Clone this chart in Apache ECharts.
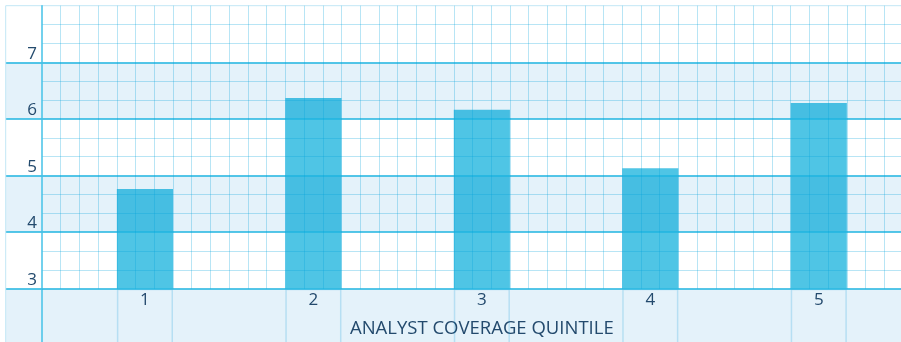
<!DOCTYPE html>
<html>
<head>
<meta charset="utf-8">
<script src="https://cdn.jsdelivr.net/npm/echarts@6/dist/echarts.min.js"></script>
<style>
  html, body { margin: 0; padding: 0; background: #ffffff; }
  #chart { width: 901px; height: 342px; }
</style>
</head>
<body>
<div id="chart"></div>
<script>
// Analyst coverage quintiles and their values
const categories = ['1', '2', '3', '4', '5'];
const quintileValues = [4.76, 6.37, 6.16, 5.13, 6.28];

// Value axis range and step
const yMin = 3;
const yMax = 8;
const yStep = 1;

// Graph-paper column count across the plot
const paperColumns = 46;

const axisTitle = 'ANALYST COVERAGE QUINTILE';

// Palette
const barColor = '#4fc5e5';
const bandTint = 'rgba(3,134,208,0.107)';
const footColor = '#e4f2fa';
const minorLine = 'rgba(0,160,220,0.28)';
const majorLine = '#1fb4e0';
const axisLineColor = '#45c2e7';
const frameColor = '#c2e7f5';
const guideLine = 'rgba(0,150,215,0.2)';
const textColor = '#234a6d';
const fontFamily = '"Open Sans", "Noto Sans", sans-serif';

// Layout (pixels)
const frameEdge = 5.7;
const axisX = 42;
const catStart = 60.7;
const plotTop = 5.7;
const plotHeight = 283;
const footTop = plotTop + plotHeight;

const chart = echarts.init(document.getElementById('chart'), null, { renderer: 'canvas' });

const hiddenValue = (gridIndex) => ({ type: 'value', gridIndex, show: false, min: 0, max: 1 });
const gridBase = { outerBoundsMode: 'none', containLabel: false };

chart.setOption({
  animation: false,
  backgroundColor: '#ffffff',
  grid: [
    // 0: outer frame (top and left edges)
    Object.assign({ left: frameEdge, top: frameEdge, right: -1, bottom: -1, show: true, z: 1,
      backgroundColor: 'transparent', borderColor: frameColor, borderWidth: 1 }, gridBase),
    // 1: left margin strip beside the value axis
    Object.assign({ left: frameEdge, top: plotTop, width: axisX - frameEdge, height: plotHeight }, gridBase),
    // 2: footer strip under the baseline
    Object.assign({ left: frameEdge, top: footTop, right: -1, bottom: -1, show: true, z: 0,
      backgroundColor: footColor, borderWidth: 0 }, gridBase),
    // 3: bar-edge guides through the footer
    Object.assign({ left: catStart, top: footTop, right: -2, bottom: -4 }, gridBase),
    // 4: bars
    Object.assign({ left: catStart, top: plotTop, right: -2, height: plotHeight }, gridBase),
    // 5: graph paper overlay
    Object.assign({ left: axisX, top: plotTop, right: -2, height: plotHeight }, gridBase)
  ],
  xAxis: [
    hiddenValue(0),
    hiddenValue(1),
    hiddenValue(2),
    { type: 'category', gridIndex: 3, data: categories, show: false },
    {
      type: 'category', gridIndex: 4, data: categories,
      axisLine: { show: false }, axisTick: { show: false },
      axisLabel: { color: textColor, fontSize: 17, fontFamily, margin: 3 },
      name: axisTitle, nameLocation: 'middle', nameGap: 31,
      nameTextStyle: { color: textColor, fontSize: 18.5, fontFamily }
    },
    {
      type: 'value', gridIndex: 5, min: 0, max: paperColumns, interval: 1, z: 5,
      axisLine: { show: false }, axisTick: { show: false }, axisLabel: { show: false },
      splitLine: { show: true, showMinLine: false, lineStyle: { color: minorLine, width: 1 } }
    }
  ],
  yAxis: [
    hiddenValue(0),
    {
      type: 'value', gridIndex: 1, min: yMin, max: yMax, interval: yStep,
      axisLine: { show: false }, axisTick: { show: false }, axisLabel: { show: false },
      splitLine: { show: true, showMaxLine: false, lineStyle: { color: majorLine, width: 1.5 } },
      splitArea: { show: true, areaStyle: { color: ['rgba(0,0,0,0)', bandTint] } }
    },
    {
      type: 'value', gridIndex: 2, min: 0, max: 1, position: 'left', offset: -(axisX - frameEdge),
      axisLine: { show: true, lineStyle: { color: axisLineColor, width: 1.5 } },
      axisTick: { show: false }, axisLabel: { show: false }, splitLine: { show: false }
    },
    hiddenValue(3),
    { type: 'value', gridIndex: 4, min: yMin, max: yMax, show: false },
    {
      type: 'value', gridIndex: 5, min: yMin, max: yMax, interval: yStep, z: 5,
      axisLine: { show: true, lineStyle: { color: axisLineColor, width: 1.5 } },
      axisTick: { show: false },
      axisLabel: {
        color: textColor, fontSize: 17, fontFamily, margin: 5,
        verticalAlign: 'bottom', showMaxLabel: false
      },
      minorTick: { show: false, splitNumber: 3 },
      minorSplitLine: { show: true, lineStyle: { color: minorLine, width: 1 } },
      splitLine: { show: true, showMaxLine: false, lineStyle: { color: majorLine, width: 1.5 } },
      splitArea: { show: true, areaStyle: { color: ['rgba(0,0,0,0)', bandTint] } }
    }
  ],
  series: [
    {
      // edges of each bar carried down through the footer
      type: 'bar', xAxisIndex: 3, yAxisIndex: 3,
      data: categories.map(() => 1),
      barWidth: '33.33%', silent: true, z: 1,
      itemStyle: { color: 'rgba(0,0,0,0)', borderColor: guideLine, borderWidth: 1.5 }
    },
    {
      type: 'bar', xAxisIndex: 4, yAxisIndex: 4,
      data: quintileValues,
      barWidth: '33.33%', clip: true, z: 2,
      itemStyle: { color: barColor }
    }
  ]
});
</script>
</body>
</html>
